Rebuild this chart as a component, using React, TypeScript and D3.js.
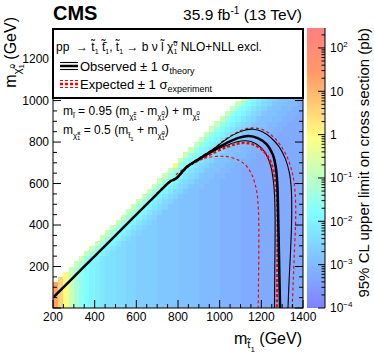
import React from 'react';
import * as d3 from 'd3';

// ---------------- data ----------------
const X_DOMAIN: [number, number] = [200, 1400];
const Y_DOMAIN: [number, number] = [0, 1345];
const Z_LOG_DOMAIN: [number, number] = [-4, 2.46];

const X_TICK_LABELS = [200, 400, 600, 800, 1000, 1200, 1400];
const Y_TICK_LABELS = [200, 400, 600, 800, 1000, 1200];
const Z_DECADES = [-4, -3, -2, -1, 0, 1, 2];

// heat map: 25 GeV bins starting at mstop = 200, mLSP = 0; rows are right-aligned (last char = 1375 GeV bin)
const BIN_X0 = 200;
const BIN_W = 25;
const N_COLS = 48;
const LEVEL_CODES = 'abcdefghijklmnopqrstuvwx';
const LEVEL_LOG10 = [-3.25, -3.12, -3.0, -2.88, -2.77, -2.65, -2.53, -2.42, -2.32, -2.22, -2.1, -2.0, -1.8, -1.6, -1.4, -1.2, -1.0, -0.8, -0.4, 0.0, 0.3, 0.6, 1.0, 1.3];
const HEAT_ROWS = [
  'xvtrpnmlkjiihhggffffeeeeddddccccbbbbaaaaaaaaaaaa',
  'xvtrpnmlkjiihhggffffeeeeddddccccbbbbaaaaaaaaaaaa',
  'xvtrpnmlkjiihhggffffeeeeddddccccbbbbaaaaaaaaaaaa',
  'xvtrpnmlkjiihhggffffeeeeddddccccbbbbaaaaaaaaaaaa',
  'xvtrpnmlkjiihhggffffeeeeddddccccbbbbaaaaaaaaaaaa',
  'vtrpnmlkjiihhggffffeeeeddddccccbbbbaaaaaaaaaaaa',
  'trpnmlkjiihhggffffeeeeddddccccbbbbaaaaaaaaaaaa',
  'rpnmlkjiihhggffffeeeeddddccccbbbbaaaaaaaaaaaa',
  'romlkjiihhggffffeeeeddddccccbbbbaaaaaaaaaaaa',
  'romljiihhggffffeeeeddddccccbbbbaaaaaaaaaaaa',
  'romljihhggffffeeeeddddccccbbbbaaaaaaaaaaaa',
  'romljhhggffffeeeeddddccccbbbbaaaaaaaaaaaa',
  'romljhggffffeeeeddddccccbbbbaaaaaaaaaaaa',
  'romljhgffffeeeeddddccccbbbbaaaaaaaaaaaa',
  'romljhgfffeeeeddddccccbbbbaaaaaaaaaaaa',
  'romljhgffeeeeddddccccbbbbaaaaaaaaaaaa',
  'romljhgfeeeeddddccccbbbbaaaaaaaaaaaa',
  'romljhgeeeeddddccccbbbbaaaaaaaaaaaa',
  'romljhgeeeddddccccbbbbaaaaaaaaaaaa',
  'romljhgeeddddccccbbbbaaaaaaaaaaaa',
  'romljhgeddddccccbbbbaaaaaaaaaaaa',
  'romljhgedddccccbbbbaaaaaaaaaaaa',
  'romljhgeddccccbbbbaaaaaaaaaaaa',
  'romljhgeddcccbbbbaaaaaaaaaaaa',
  'romljhgeddccbbbbaaaaaaaaaaaa',
  'romljhgeddccbbbaaaaaaaaaaaa',
  'romljhgeddccbbaaaaaaaaaaaa',
  'tomljhgeddccbbaaaaaaaaaaa',
  'romljhgeddccbbaaaaaaaaaa',
  'romljhgeddccbbaaaaaaaaa',
  'romljhgeddccbbaaaaaaaa',
  'romljhgeddccbbaaaaaaa',
  'romljhgeddccbbaaaaaa',
  'romljhgeddccbbaaaaa',
  'romljhgeddccbbaaaa',
  'romljhgeddccbbaaa',
  'romljhgeddccbbaa',
  'romljhgeddccbba',
  'romljhgeddccbb',
  'romljhgeddccb',
  'romljhgeddcc',
];

// exclusion contours [m_stop, m_LSP] in GeV
const OBS: [number, number][] = [
  [205, 55], [330, 180], [450, 300], [560, 410], [660, 510], [745, 595], [762, 610], [778, 618], [795, 628],
  [842, 680], [906, 721], [969, 760], [1033, 795], [1090, 820], [1140, 829], [1185, 818], [1225, 790],
  [1255, 740], [1270, 675], [1277, 590], [1280, 490], [1282, 390], [1284, 290], [1286, 190], [1288, 90], [1290, 0],
];
const OBS_UP: [number, number][] = [
  [205, 55], [330, 180], [450, 300], [560, 410], [660, 510], [745, 595], [762, 610], [778, 618], [795, 629],
  [842, 682], [906, 725], [969, 765], [1020, 805], [1070, 837], [1120, 857], [1161, 862], [1205, 850],
  [1245, 822], [1285, 778], [1315, 720], [1335, 650], [1344, 570], [1346, 470], [1344, 370], [1340, 270],
  [1335, 170], [1331, 80], [1328, 0],
];
const OBS_DN: [number, number][] = [
  [205, 55], [330, 180], [450, 300], [560, 410], [660, 510], [745, 595], [762, 610], [778, 617], [795, 627],
  [842, 678], [906, 717], [969, 755], [1030, 782], [1080, 800], [1125, 806], [1165, 797], [1200, 772],
  [1228, 732], [1247, 678], [1258, 610], [1264, 530], [1266, 430], [1266, 330], [1265, 230], [1264, 130], [1263, 0],
];
const EXP: [number, number][] = [
  [700, 552], [745, 595], [762, 609], [778, 617], [795, 627], [842, 677], [906, 715], [969, 747], [1030, 774],
  [1080, 791], [1120, 796], [1160, 789], [1198, 767], [1232, 729], [1255, 675], [1268, 605], [1275, 525],
  [1278, 430], [1278, 330], [1277, 230], [1276, 130], [1274, 0],
];
const EXP_UP: [number, number][] = [
  [700, 552], [745, 596], [762, 611], [778, 619], [795, 630], [842, 683], [906, 727], [969, 767], [1020, 808],
  [1070, 840], [1120, 862], [1165, 868], [1210, 858], [1252, 830], [1292, 785], [1325, 725], [1348, 655],
  [1360, 580], [1365, 490], [1364, 400], [1360, 300], [1356, 200], [1352, 100], [1348, 0],
];
const EXP_DN: [number, number][] = [
  [790, 642], [842, 682], [880, 707], [930, 723], [985, 731], [1041, 729], [1090, 713], [1125, 688],
  [1150, 652], [1168, 605], [1180, 548], [1186, 470], [1188, 380], [1188, 280], [1187, 180], [1186, 80], [1185, 0],
];

// ---------------- chart ----------------
const FONT = 'Liberation Sans, Arial, Helvetica, sans-serif';

export default function App() {
  const W = 374, H = 359;
  const L = 53, R = 303, T = 29, B = 308;
  const CB_L = 307, CB_R = 325, CB_T = 28, CB_B = 308;

  const x = d3.scaleLinear().domain(X_DOMAIN).range([L, R]);
  const y = d3.scaleLinear().domain(Y_DOMAIN).range([B, T]);
  const palette = d3
    .scaleLinear<string>()
    .domain([0, 0.34, 0.61, 0.84, 1])
    .range(['rgb(128,128,255)', 'rgb(128,255,255)', 'rgb(255,255,128)', 'rgb(255,153,102)', 'rgb(255,128,128)'])
    .interpolate(d3.interpolateRgb)
    .clamp(true);
  const zt = d3.scaleLinear().domain(Z_LOG_DOMAIN).range([0, 1]).clamp(true);
  const color = (lg: number) => palette(zt(lg));
  const cbY = d3.scaleLinear().domain(Z_LOG_DOMAIN).range([CB_B, CB_T]);

  const cells: React.ReactNode[] = [];
  HEAT_ROWS.forEach((row, j) => {
    const n = row.length;
    for (let idx = 0; idx < n; idx++) {
      const k = LEVEL_CODES.indexOf(row[idx]);
      if (k < 0) continue;
      const i = N_COLS - n + idx;
      const x0 = BIN_X0 + i * BIN_W;
      const y0 = j * BIN_W;
      const px = x(x0), py = y(y0 + BIN_W);
      cells.push(
        <rect key={`c${j}_${i}`} x={px} y={py} width={x(x0 + BIN_W) - px + 0.2} height={y(y0) - py + 0.2}
          fill={color(LEVEL_LOG10[k])} />
      );
    }
  });

  const line = d3.line<[number, number]>().x(d => x(d[0])).y(d => y(d[1])).curve(d3.curveCatmullRom.alpha(0.5));

  const xTicks = d3.range(200, 1401, 50);
  const yTicks = d3.range(0, 1345, 50);

  const gradStops = d3.range(0, 1.0001, 0.02);
  const minorZ: number[] = [];
  Z_DECADES.forEach(d => {
    for (let m = 2; m <= 9; m++) {
      const v = d + Math.log10(m);
      if (v <= Z_LOG_DOMAIN[1]) minorZ.push(v);
    }
  });

  const zLabel = (d: number) => {
    if (d === 0) return <tspan>1</tspan>;
    if (d === 1) return <tspan>10</tspan>;
    return (
      <>
        <tspan>10</tspan>
        <tspan dy={-5} fontSize={8}>{d < 0 ? `\u2212${-d}` : `${d}`}</tspan>
      </>
    );
  };

  const chi = '\u03C7\u0303';
  const ttilde = 't\u0303';

  return (
    <svg width={W} height={H} style={{ position: 'absolute', left: 0, top: 0, background: '#fff' }}
      fontFamily={FONT}>
      <defs>
        <clipPath id="plotclip">
          <rect x={L} y={T} width={R - L} height={B - T} />
        </clipPath>
        <linearGradient id="cbgrad" x1="0" y1="1" x2="0" y2="0">
          {gradStops.map(t => (
            <stop key={t} offset={t} stopColor={palette(t)} />
          ))}
        </linearGradient>
      </defs>

      {/* heat map */}
      <g clipPath="url(#plotclip)" shapeRendering="crispEdges">{cells}</g>

      {/* contours */}
      <g clipPath="url(#plotclip)" fill="none" strokeLinejoin="round">
        <path d={line(EXP_DN) || ''} stroke="#ff0000" strokeWidth={1.2} strokeDasharray="3,2.5" />
        <path d={line(EXP_UP) || ''} stroke="#ff0000" strokeWidth={1.2} strokeDasharray="3,2.5" />
        <path d={line(OBS_UP) || ''} stroke="#000" strokeWidth={1.1} />
        <path d={line(OBS_DN) || ''} stroke="#000" strokeWidth={1.1} />
        <path d={line(EXP) || ''} stroke="#ff0000" strokeWidth={2.3} strokeDasharray="3,2" />
        <path d={line(OBS) || ''} stroke="#000" strokeWidth={2.5} />
      </g>

      {/* frame */}
      <rect x={L} y={T} width={R - L} height={B - T} fill="none" stroke="#000" strokeWidth={1} />

      {/* ticks */}
      <g stroke="#000" strokeWidth={1}>
        {xTicks.map(v => {
          const len = v % 200 === 0 ? 8 : 4;
          return <line key={`xt${v}`} x1={x(v)} x2={x(v)} y1={B} y2={B - len} />;
        })}
        {yTicks.map(v => {
          const len = v % 200 === 0 ? 8 : 4;
          return (
            <g key={`yt${v}`}>
              <line x1={L} x2={L + len} y1={y(v)} y2={y(v)} />
              <line x1={R} x2={R - len} y1={y(v)} y2={y(v)} />
            </g>
          );
        })}
      </g>

      {/* tick labels */}
      <g fontSize={12} fill="#000">
        {X_TICK_LABELS.map(v => (
          <text key={`xl${v}`} x={x(v)} y={321} textAnchor="middle">{v}</text>
        ))}
        {Y_TICK_LABELS.map(v => (
          <text key={`yl${v}`} x={49} y={y(v) + 4.3} textAnchor="end">{v}</text>
        ))}
      </g>

      {/* axis titles */}
      <text x={302} y={344} fontSize={16} textAnchor="end" style={{ whiteSpace: 'pre' }}>
        m<tspan dy={4} fontSize={11}>{ttilde}</tspan>
        <tspan dy={4} fontSize={8}>1</tspan>
        <tspan dy={-8} fontSize={16}> (GeV)</tspan>
      </text>
      <text transform="translate(16,17) rotate(-90)" fontSize={16} textAnchor="end" style={{ whiteSpace: 'pre' }}>
        m<tspan dy={5} fontSize={11}>{chi}</tspan>
        <tspan dy={-6} fontSize={8}>0</tspan>
        <tspan dx={-4.5} dy={9} fontSize={8}>1</tspan>
        <tspan dy={-8} fontSize={16}> (GeV)</tspan>
      </text>

      {/* colour bar */}
      <rect x={CB_L} y={CB_T} width={CB_R - CB_L} height={CB_B - CB_T} fill="url(#cbgrad)" />
      <g stroke="#000" strokeWidth={1}>
        <line x1={CB_R} x2={CB_R} y1={CB_T} y2={CB_B} />
        {Z_DECADES.map(d => (
          <line key={`zt${d}`} x1={CB_R} x2={CB_R - 7} y1={cbY(d)} y2={cbY(d)} />
        ))}
        {minorZ.map(v => (
          <line key={`zm${v}`} x1={CB_R} x2={CB_R - 3.5} y1={cbY(v)} y2={cbY(v)} />
        ))}
      </g>
      <g fontSize={12} fill="#000">
        {Z_DECADES.map(d => (
          <text key={`zl${d}`} x={330} y={cbY(d) + 4.3}>{zLabel(d)}</text>
        ))}
      </g>
      <text transform="translate(369,28) rotate(-90)" fontSize={15} textAnchor="end">
        95% CL upper limit on cross section (pb)
      </text>

      {/* annotations in plot */}
      <text x={63} y={115} fontSize={12} style={{ whiteSpace: 'pre' }}>
        m<tspan dy={3} fontSize={8}>{'l\u0303'}</tspan>
        <tspan dy={-3} fontSize={12}> = 0.95 (m</tspan>
        <tspan dy={4} fontSize={8}>{chi}</tspan>
        <tspan dy={-4} fontSize={6}>{'\u00B1'}</tspan>
        <tspan dx={-3.4} dy={5} fontSize={6}>1</tspan>
        <tspan dy={-5} fontSize={12}> - m</tspan>
        <tspan dy={4} fontSize={8}>{chi}</tspan>
        <tspan dy={-4} fontSize={6}>0</tspan>
        <tspan dx={-3.4} dy={5} fontSize={6}>1</tspan>
        <tspan dy={-5} fontSize={12}>) + m</tspan>
        <tspan dy={4} fontSize={8}>{chi}</tspan>
        <tspan dy={-4} fontSize={6}>0</tspan>
        <tspan dx={-3.4} dy={5} fontSize={6}>1</tspan>
      </text>
      <text x={63} y={134} fontSize={12} style={{ whiteSpace: 'pre' }}>
        m<tspan dy={4} fontSize={8}>{chi}</tspan>
        <tspan dy={-3} fontSize={6}>{'\u00B1'}</tspan>
        <tspan dx={-3.4} dy={5} fontSize={6}>1</tspan>
        <tspan dy={-6} fontSize={12}> = 0.5 (m</tspan>
        <tspan dy={4} fontSize={8}>{ttilde}</tspan>
        <tspan dy={3} fontSize={6}>1</tspan>
        <tspan dy={-7} fontSize={12}> + m</tspan>
        <tspan dy={4} fontSize={8}>{chi}</tspan>
        <tspan dy={-3} fontSize={6}>0</tspan>
        <tspan dx={-3.4} dy={5} fontSize={6}>1</tspan>
        <tspan dy={-6} fontSize={12}>)</tspan>
      </text>

      {/* legend box */}
      <rect x={L} y={T} width={R - L} height={98 - T} fill="#fff" stroke="#000" strokeWidth={2} />
      <text x={56} y={51} fontSize={12} style={{ whiteSpace: 'pre' }}>
        {'pp  \u2192 '}{ttilde}
        <tspan dy={3} fontSize={7}>1</tspan>
        <tspan dy={-3} fontSize={12}>{' t\u0303\u0304'}</tspan>
        <tspan dy={3} fontSize={7}>1</tspan>
        <tspan dy={-3} fontSize={12}>{', ' + ttilde}</tspan>
        <tspan dy={3} fontSize={7}>1</tspan>
        <tspan dy={-3} fontSize={12}>{' \u2192 b \u03BD l\u0303 ' + chi}</tspan>
        <tspan dy={-5} fontSize={7}>0</tspan>
        <tspan dx={-3.9} dy={8} fontSize={7}>1</tspan>
        <tspan dy={-3} fontSize={12}> NLO+NLL excl.</tspan>
      </text>
      <g fill="none">
        <line x1={60} x2={78} y1={62.5} y2={62.5} stroke="#000" strokeWidth={1.1} />
        <line x1={60} x2={78} y1={66} y2={66} stroke="#000" strokeWidth={2.5} />
        <line x1={60} x2={78} y1={69.5} y2={69.5} stroke="#000" strokeWidth={1.1} />
        <line x1={60} x2={78} y1={80.5} y2={80.5} stroke="#ff0000" strokeWidth={1.2} strokeDasharray="3,2" />
        <line x1={60} x2={78} y1={84} y2={84} stroke="#ff0000" strokeWidth={2.3} strokeDasharray="3,2" />
        <line x1={60} x2={78} y1={87.5} y2={87.5} stroke="#ff0000" strokeWidth={1.2} strokeDasharray="3,2" />
      </g>
      <text x={80} y={71} fontSize={13} style={{ whiteSpace: 'pre' }}>
        {'Observed \u00B1 1 \u03C3'}
        <tspan dy={3} fontSize={9}>theory</tspan>
      </text>
      <text x={80} y={89} fontSize={13} style={{ whiteSpace: 'pre' }}>
        {'Expected \u00B1 1 \u03C3'}
        <tspan dy={3} fontSize={9}>experiment</tspan>
      </text>

      {/* header */}
      <text x={53} y={20} fontSize={20} fontWeight="bold">CMS</text>
      <text x={302} y={20} fontSize={15.5} textAnchor="end" style={{ whiteSpace: 'pre' }}>
        35.9 fb<tspan dy={-6} fontSize={10}>-1</tspan>
        <tspan dy={6} fontSize={15.5}> (13 TeV)</tspan>
      </text>
    </svg>
  );
}
